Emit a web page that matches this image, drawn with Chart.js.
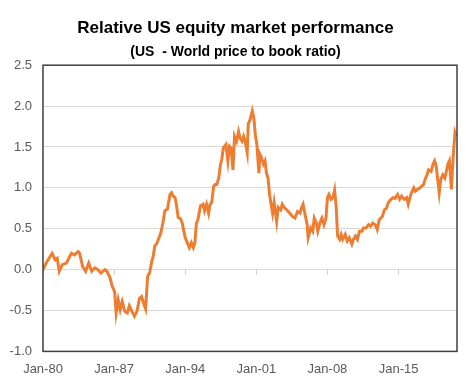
<!DOCTYPE html>
<html>
<head>
<meta charset="utf-8">
<script src="https://cdn.jsdelivr.net/npm/chart.js@4/dist/chart.umd.min.js"></script>
<style>
    html, body { margin: 0; padding: 0; background: #fff; }
    #wrap { width: 473px; height: 392px; }
</style>
</head>
<body>
<div id="wrap"><canvas id="pbChart"></canvas></div>
<script>
// Dates as decimal years
const dates = [
    1980.0, 1980.4, 1980.9, 1981.2, 1981.4, 1981.6, 1981.9, 1982.3, 1982.8, 1983.1,
    1983.45, 1983.6, 1983.9, 1984.2, 1984.5, 1984.8, 1985.1, 1985.4, 1985.7, 1986.1,
    1986.3, 1986.6, 1986.8, 1987.05, 1987.2, 1987.4, 1987.6, 1987.8, 1988.05, 1988.3,
    1988.5, 1988.75, 1989.0, 1989.25, 1989.5, 1989.7, 1989.9, 1990.1, 1990.3, 1990.5,
    1990.7, 1990.85, 1991.0, 1991.15, 1991.3, 1991.6, 1991.8, 1992.0, 1992.25, 1992.5,
    1992.65, 1992.8, 1993.0, 1993.15, 1993.3, 1993.55, 1993.7, 1994.0, 1994.2, 1994.4,
    1994.6, 1994.8, 1994.95, 1995.1, 1995.25, 1995.5, 1995.75, 1995.9, 1996.1, 1996.3,
    1996.45, 1996.6, 1996.8, 1996.95, 1997.1, 1997.3, 1997.45, 1997.6, 1997.75, 1998.0,
    1998.2, 1998.35, 1998.5, 1998.7, 1998.85, 1999.05, 1999.25, 1999.4, 1999.6, 1999.75,
    1999.9, 2000.1, 2000.2, 2000.4, 2000.6, 2000.75, 2000.9, 2001.05, 2001.25, 2001.35,
    2001.5, 2001.7, 2001.85, 2002.0, 2002.15, 2002.3, 2002.45, 2002.6, 2002.75, 2003.0,
    2003.15, 2003.4, 2003.55, 2003.75, 2004.0, 2004.3, 2004.55, 2004.8, 2005.05, 2005.3,
    2005.45, 2005.6, 2005.8, 2006.0, 2006.1, 2006.35, 2006.55, 2006.7, 2006.9, 2007.05,
    2007.25, 2007.45, 2007.65, 2007.85, 2008.0, 2008.15, 2008.35, 2008.55, 2008.7, 2008.85,
    2009.0, 2009.2, 2009.35, 2009.5, 2009.75, 2009.95, 2010.15, 2010.4, 2010.55, 2010.75,
    2010.95, 2011.15, 2011.4, 2011.55, 2011.8, 2012.05, 2012.25, 2012.45, 2012.7, 2012.9,
    2013.1, 2013.4, 2013.6, 2013.8, 2014.0, 2014.25, 2014.45, 2014.65, 2014.9, 2015.1,
    2015.3, 2015.55, 2015.8, 2015.95, 2016.2, 2016.5, 2016.65, 2016.85, 2017.1, 2017.45,
    2017.6, 2017.8, 2017.95, 2018.2, 2018.4, 2018.55, 2018.7, 2018.85, 2019.0, 2019.15,
    2019.35, 2019.55, 2019.7, 2019.85, 2020.0, 2020.2, 2020.3, 2020.4, 2020.55, 2020.65
];
const ratio = [
    0.00, 0.10, 0.20, 0.12, 0.14, -0.02, 0.06, 0.08, 0.20, 0.18,
    0.22, 0.20, 0.04, -0.02, 0.08, -0.02, 0.02, 0.00, -0.04, 0.00,
    -0.02, -0.10, -0.20, -0.27, -0.53, -0.37, -0.49, -0.39, -0.51, -0.53,
    -0.44, -0.51, -0.57, -0.51, -0.35, -0.33, -0.41, -0.48, -0.08, -0.04,
    0.10, 0.16, 0.29, 0.31, 0.35, 0.45, 0.57, 0.72, 0.74, 0.92,
    0.94, 0.90, 0.88, 0.78, 0.64, 0.62, 0.57, 0.39, 0.33, 0.27,
    0.33, 0.27, 0.33, 0.57, 0.61, 0.78, 0.80, 0.72, 0.80, 0.69,
    0.80, 0.82, 1.02, 1.04, 1.04, 1.12, 1.27, 1.35, 1.49, 1.53,
    1.33, 1.51, 1.49, 1.22, 1.63, 1.57, 1.69, 1.61, 1.57, 1.63,
    1.57, 1.43, 1.78, 1.84, 1.94, 1.86, 1.65, 1.53, 1.18, 1.41,
    1.37, 1.29, 1.33, 1.18, 1.12, 0.92, 0.80, 0.69, 0.82, 0.59,
    0.76, 0.73, 0.80, 0.76, 0.73, 0.69, 0.65, 0.63, 0.71, 0.69,
    0.76, 0.80, 0.67, 0.55, 0.39, 0.51, 0.47, 0.63, 0.57, 0.47,
    0.57, 0.63, 0.55, 0.63, 0.88, 0.92, 0.86, 0.88, 0.97, 0.78,
    0.41, 0.37, 0.43, 0.37, 0.43, 0.35, 0.39, 0.31, 0.37, 0.41,
    0.37, 0.47, 0.47, 0.51, 0.51, 0.55, 0.53, 0.57, 0.55, 0.49,
    0.61, 0.65, 0.73, 0.75, 0.82, 0.86, 0.88, 0.87, 0.92, 0.86,
    0.90, 0.86, 0.88, 0.80, 0.92, 1.00, 0.96, 0.98, 1.00, 1.04,
    1.10, 1.16, 1.22, 1.20, 1.29, 1.33, 1.27, 1.10, 0.94, 1.10,
    1.16, 1.12, 1.20, 1.29, 1.33, 0.98, 1.22, 1.43, 1.67, 1.63
];
const tickYears = [1980, 1987, 1994, 2001, 2008, 2015];

const tickFont = { family: '"Liberation Sans", Arial, sans-serif', size: 13 };

// dark frame round the plot area
const framePlugin = {
    id: 'frame',
    afterDraw(chart) {
        const { ctx, chartArea: a } = chart;
        ctx.save();
        ctx.strokeStyle = '#3f3f3f';
        ctx.lineWidth = 1.5;
        ctx.strokeRect(a.left, a.top, a.right - a.left, a.bottom - a.top);
        ctx.restore();
    }
};

function setYearTicks(scale) {
    scale.ticks = tickYears.map(v => ({ value: v }));
}

const ctx = document.getElementById('pbChart').getContext('2d');
new Chart(ctx, {
    type: 'line',
    data: {
        datasets: [{
            data: dates.map((d, i) => ({ x: d, y: ratio[i] })),
            borderColor: '#ED7D31',
            borderWidth: 3,
            pointRadius: 0,
            tension: 0,
            fill: false
        }]
    },
    options: {
        responsive: true,
        maintainAspectRatio: false,
        animation: false,
        layout: { padding: { left: 0, right: 2, top: 0, bottom: 5 } },
        plugins: {
            legend: { display: false },
            tooltip: { enabled: false },
            title: {
                display: true,
                text: 'Relative US equity market performance',
                color: '#000',
                font: { family: '"Liberation Sans", Arial, sans-serif', size: 17, weight: 'bold' },
                padding: { top: 18, bottom: 2 }
            },
            subtitle: {
                display: true,
                text: '(US  - World price to book ratio)',
                color: '#000',
                font: { family: '"Liberation Sans", Arial, sans-serif', size: 14, weight: 'bold' },
                padding: { top: 3, bottom: 5 }
            }
        },
        scales: {
            x: {
                type: 'linear',
                min: 1980,
                max: 2020.75,
                afterBuildTicks: setYearTicks,
                grid: { display: false, drawTicks: false },
                border: { display: false },
                ticks: {
                    color: '#595959',
                    font: tickFont,
                    padding: 10,
                    maxRotation: 0,
                    callback: v => 'Jan-' + String(v).slice(2)
                }
            },
            x2: {
                type: 'linear',
                axis: 'x',
                position: { y: 0 },
                min: 1980,
                max: 2020.75,
                afterBuildTicks: setYearTicks,
                grid: { drawOnChartArea: false, tickLength: 5, color: '#d0d0d0' },
                border: { display: false },
                ticks: { display: false }
            },
            y: {
                min: -1,
                max: 2.5,
                afterFit: scale => { scale.width = 43; },
                ticks: {
                    stepSize: 0.5,
                    color: '#595959',
                    font: tickFont,
                    padding: 11,
                    callback: v => v.toFixed(1)
                },
                grid: { color: '#d9d9d9', lineWidth: 1, drawTicks: false },
                border: { display: false }
            },
            // empty right axis, only keeps a margin on the right
            y2: {
                position: 'right',
                min: -1,
                max: 2.5,
                afterFit: scale => { scale.width = 14; },
                ticks: { display: false },
                grid: { display: false },
                border: { display: false }
            }
        }
    },
    plugins: [framePlugin]
});
</script>
</body>
</html>
